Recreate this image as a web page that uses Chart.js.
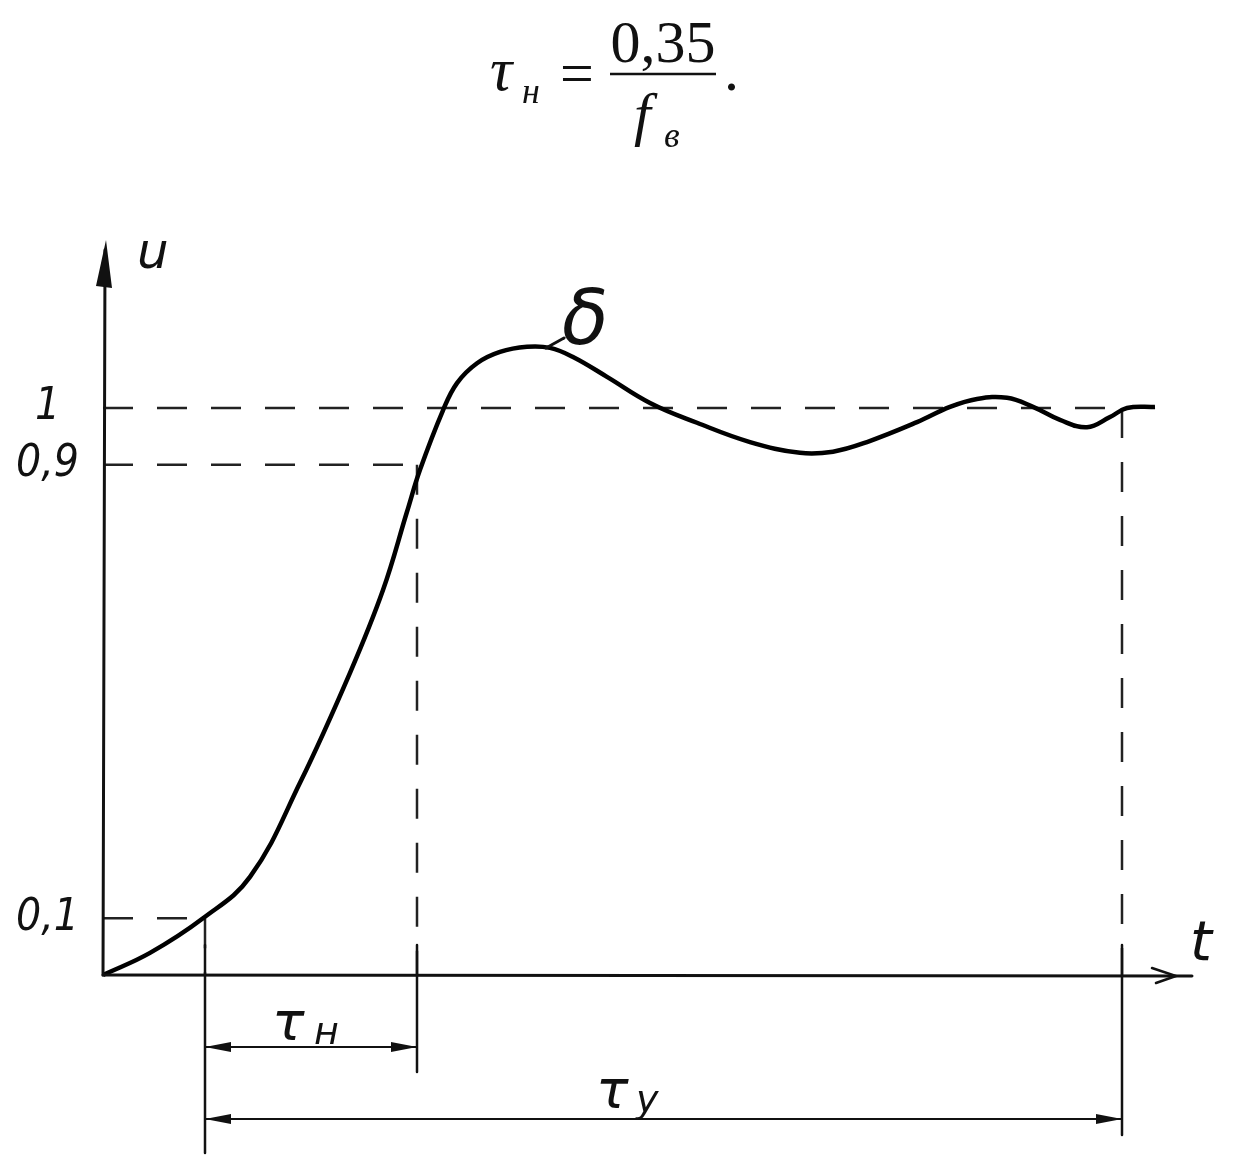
<!DOCTYPE html>
<html>
<head>
<meta charset="utf-8">
<script src="https://cdn.jsdelivr.net/npm/chart.js@4/dist/chart.umd.min.js"></script>
<style>
  html, body { margin: 0; padding: 0; background: #fff; }
  #wrap { width: 1238px; height: 1172px; }
</style>
</head>
<body>
<div id="wrap"><canvas id="chart" width="1238" height="1172"></canvas></div>
<script>
// transient response u(t)
const tData = [0, 0.47, 1.00, 1.47, 1.97, 2.47, 2.80, 3.04, 3.17, 3.40, 3.54, 3.74, 3.97, 4.24, 4.47, 4.70, 5.04, 5.47, 5.94, 6.47, 6.97, 7.30, 7.64, 8.14, 8.47, 8.74, 9.04, 9.30, 9.57, 9.84, 10.07, 10.24, 10.52];
const uData = [0, 0.039, 0.100, 0.173, 0.339, 0.533, 0.679, 0.817, 0.891, 0.996, 1.044, 1.079, 1.099, 1.108, 1.106, 1.090, 1.055, 1.009, 0.974, 0.940, 0.921, 0.923, 0.940, 0.975, 1.002, 1.016, 1.018, 1.002, 0.979, 0.966, 0.984, 1.000, 1.002];

// levels 0,1 / 0,9 / 1 and the moments where the curve reaches them
const yTicks = [0.1, 0.9, 1];
const tMarks = [1.02, 3.14, 10.19];

const curve = tData.map((t, i) => ({ x: t, y: uData[i] }));

const dashed = { borderColor: '#222', borderWidth: 2.5, borderDash: [30, 24], pointRadius: 0, fill: false, tension: 0 };
const levelSets = yTicks.map((v, i) => Object.assign({ data: [{ x: 0, y: v }, { x: tMarks[i], y: v }] }, dashed));
const dropSets = yTicks.map((v, i) => Object.assign({ data: [{ x: tMarks[i], y: v }, { x: tMarks[i], y: 0 }] }, dashed));

function arrowHead(ctx, x, y, dx, dy, len, half) {
  const ux = dx / Math.hypot(dx, dy), uy = dy / Math.hypot(dx, dy);
  ctx.beginPath();
  ctx.moveTo(x, y);
  ctx.lineTo(x - ux * len - uy * half, y - uy * len + ux * half);
  ctx.lineTo(x - ux * len + uy * half, y - uy * len - ux * half);
  ctx.closePath();
  ctx.fill();
}

const drawing = {
  id: 'drawing',
  beforeDraw(chart) {
    const ctx = chart.ctx;
    ctx.save();
    ctx.fillStyle = '#fff';
    ctx.fillRect(0, 0, chart.width, chart.height);
    ctx.restore();
  },
  afterDatasetsDraw(chart) {
    const ctx = chart.ctx;
    const xs = chart.scales.x, ys = chart.scales.y;
    const x0 = xs.getPixelForValue(0), y0 = ys.getPixelForValue(0);
    ctx.save();
    ctx.strokeStyle = '#111';
    ctx.fillStyle = '#111';
    ctx.lineCap = 'round';

    // axes
    ctx.lineWidth = 3;
    ctx.beginPath();
    ctx.moveTo(x0, y0);
    ctx.lineTo(x0 + 2, 250);
    ctx.stroke();
    ctx.beginPath();
    ctx.moveTo(x0 + 3, 240);
    ctx.lineTo(x0 - 7, 286);
    ctx.lineTo(x0 + 9, 288);
    ctx.closePath();
    ctx.fill();

    ctx.beginPath();
    ctx.moveTo(x0, y0);
    ctx.lineTo(1192, y0 + 1);
    ctx.stroke();
    ctx.lineWidth = 2.5;
    ctx.beginPath();
    ctx.moveTo(1152, y0 - 7);
    ctx.lineTo(1176, y0 + 1);
    ctx.lineTo(1156, y0 + 8);
    ctx.stroke();

    // solid extension lines below the axis
    const ext = [178, 97, 160];
    const xm = tMarks.map(t => xs.getPixelForValue(t));
    ctx.lineWidth = 2.5;
    xm.forEach((x, i) => {
      ctx.beginPath();
      ctx.moveTo(x, y0 - 30);
      ctx.lineTo(x, y0 + ext[i]);
      ctx.stroke();
    });

    // dimension lines
    ctx.lineWidth = 2;
    const dims = [[xm[0], xm[1], y0 + 72], [xm[0], xm[2], y0 + 144]];
    dims.forEach(([a, b, y]) => {
      ctx.beginPath();
      ctx.moveTo(a, y);
      ctx.lineTo(b, y);
      ctx.stroke();
      arrowHead(ctx, a, y, -1, 0, 26, 5);
      arrowHead(ctx, b, y, 1, 0, 26, 5);
    });

    // leader of delta
    ctx.lineWidth = 3;
    ctx.beginPath();
    ctx.moveTo(564, 338);
    ctx.lineTo(546, 348);
    ctx.stroke();

    // hand-written labels
    ctx.textBaseline = 'alphabetic';
    ctx.textAlign = 'left';
    ctx.font = 'italic 50px "DejaVu Sans"';
    ctx.fillText('u', 137, 268);
    ctx.font = 'italic 56px "DejaVu Sans"';
    ctx.fillText('t', 1190, 960);
    ctx.font = 'italic 76px "DejaVu Sans"';
    ctx.fillText('δ', 562, 344);
    ctx.font = 'italic 54px "DejaVu Sans"';
    ctx.fillText('τ', 272, 1040);
    ctx.fillText('τ', 596, 1108);
    ctx.font = 'italic 38px "DejaVu Sans"';
    ctx.fillText('н', 314, 1044);
    ctx.fillText('у', 636, 1112);

    // formula
    ctx.font = 'italic 62px "Liberation Serif"';
    ctx.fillText('τ', 490, 90);
    ctx.font = 'italic 36px "Liberation Serif"';
    ctx.fillText('н', 522, 103);
    ctx.font = '60px "Liberation Serif"';
    ctx.fillText('=', 560, 93);
    ctx.fillText('.', 724, 90);
    ctx.textAlign = 'center';
    ctx.fillText('0,35', 663, 62);
    ctx.textAlign = 'left';
    ctx.font = 'italic 60px "Liberation Serif"';
    ctx.fillText('f', 634, 134);
    ctx.font = 'italic 36px "Liberation Serif"';
    ctx.fillText('в', 664, 147);
    ctx.lineWidth = 2.5;
    ctx.lineCap = 'butt';
    ctx.beginPath();
    ctx.moveTo(610, 74);
    ctx.lineTo(716, 74);
    ctx.stroke();
    ctx.restore();
  }
};

new Chart(document.getElementById('chart').getContext('2d'), {
  type: 'scatter',
  data: {
    datasets: [{
      data: curve,
      showLine: true,
      borderColor: '#000',
      borderWidth: 4.5,
      pointRadius: 0,
      tension: 0.4,
      fill: false
    }].concat(levelSets.map(d => Object.assign({ showLine: true }, d)),
              dropSets.map(d => Object.assign({ showLine: true }, d)))
  },
  options: {
    responsive: false,
    animation: false,
    devicePixelRatio: 1,
    layout: { padding: 0, autoPadding: false },
    plugins: { legend: { display: false }, tooltip: { enabled: false } },
    scales: {
      x: { type: 'linear', display: false, min: 0, max: 11.35 },
      y: {
        type: 'linear',
        min: -0.3474,
        max: 1.7196,
        grid: { display: false },
        border: { display: false },
        afterFit(scale) {
          scale.width = 103;
          scale.paddingTop = 0;
          scale.paddingBottom = 0;
        },
        afterBuildTicks(scale) { scale.ticks = yTicks.map(v => ({ value: v })); },
        ticks: {
          color: '#111',
          crossAlign: 'center',
          padding: 16,
          font: { family: 'DejaVu Sans Condensed', style: 'italic', size: 44 },
          callback: v => String(v).replace('.', ',')
        }
      }
    }
  },
  plugins: [drawing]
});
</script>
</body>
</html>
